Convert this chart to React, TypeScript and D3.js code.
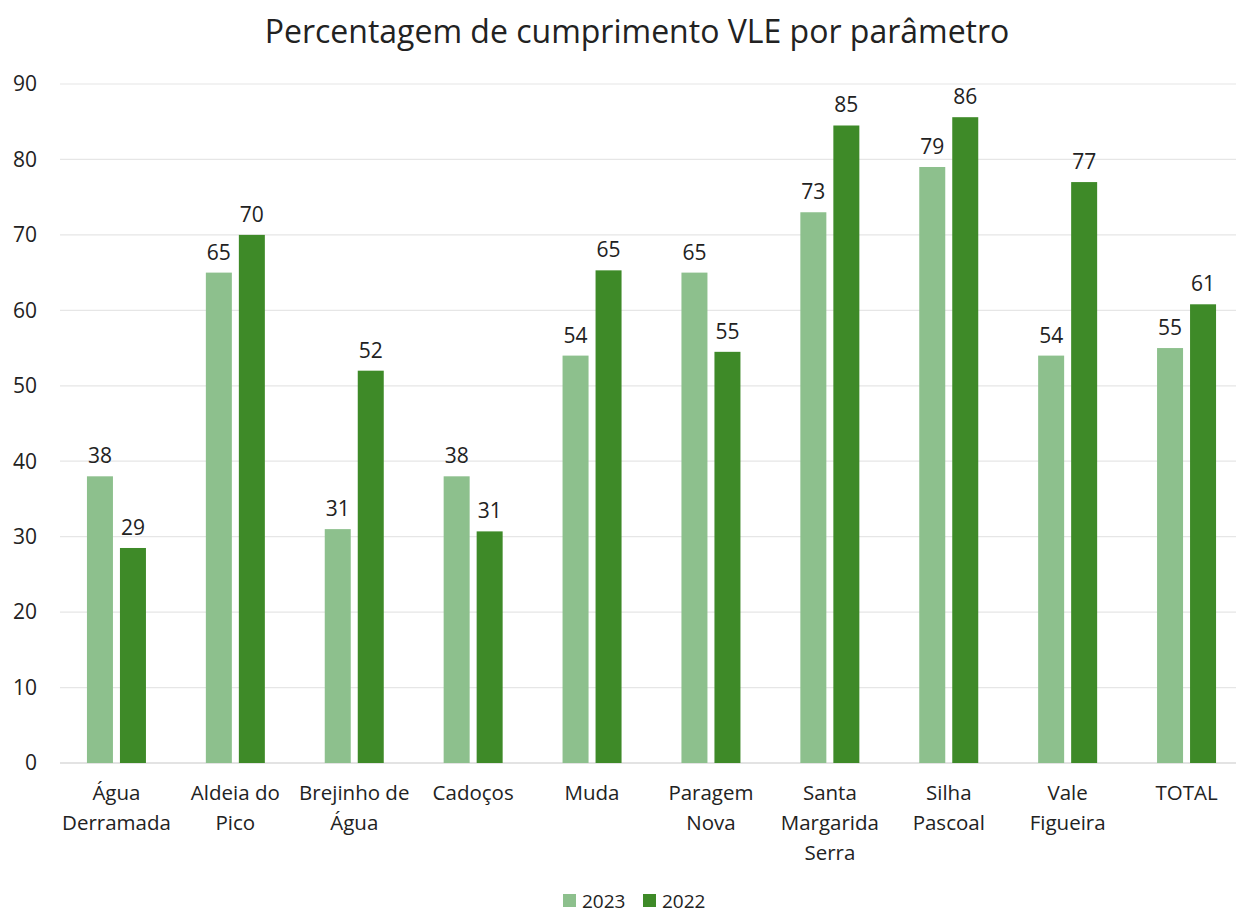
import React from "react";
import * as d3 from "d3";

const categories: string[][] = [
  ["Água", "Derramada"],
  ["Aldeia do", "Pico"],
  ["Brejinho de", "Água"],
  ["Cadoços"],
  ["Muda"],
  ["Paragem", "Nova"],
  ["Santa", "Margarida", "Serra"],
  ["Silha", "Pascoal"],
  ["Vale", "Figueira"],
  ["TOTAL"],
];
const values2023 = [38, 65, 31, 38, 54, 65, 73, 79, 54, 55];
const values2022 = [28.5, 70, 52, 30.7, 65.3, 54.5, 84.5, 85.6, 77, 60.8];
const yTicks = [0, 10, 20, 30, 40, 50, 60, 70, 80, 90];
const seriesNames = ["2023", "2022"];
const colors = ["#8dc08d", "#3e8a28"];

const W = 1236;
const H = 915;
const FONT = "'Open Sans', 'Noto Sans', sans-serif";

export default function App() {
  const keys = categories.map((c) => c.join(" "));
  const x = d3.scaleBand<string>().domain(keys).range([57, 1246]).padding(0);
  const y = d3.scaleLinear().domain([0, 90]).range([763, 84]);
  const barW = 26;
  const gap = 7;
  const series = [values2023, values2022];

  return (
    <svg width={W} height={H} style={{ position: "absolute", left: 0, top: 0, background: "#fff" }} fontFamily={FONT}>
      <text x={637} y={43} textAnchor="middle" fontSize={32} fill="#222">
        Percentagem de cumprimento VLE por parâmetro
      </text>
      {yTicks.map((t) => (
        <g key={t}>
          <line x1={60} x2={1243} y1={y(t)} y2={y(t)} stroke={t === 0 ? "#c8c8c8" : "#e6e6e6"} strokeWidth={1.2} />
          <text x={37} y={y(t)} dy="0.35em" textAnchor="end" fontSize={21} fill="#222">
            {t}
          </text>
        </g>
      ))}
      {keys.map((k, i) => {
        const cx = (x(k) as number) + x.bandwidth() / 2;
        return (
          <g key={k}>
            {series.map((vals, s) => {
              const bx = s === 0 ? cx - gap / 2 - barW : cx + gap / 2;
              const v = vals[i];
              return (
                <g key={s}>
                  <rect x={bx} y={y(v)} width={barW} height={y(0) - y(v)} fill={colors[s]} />
                  <text x={bx + barW / 2} y={y(v) - 13} textAnchor="middle" fontSize={21} fill="#222">
                    {Math.round(v)}
                  </text>
                </g>
              );
            })}
            {categories[i].map((line, j) => (
              <text key={j} x={cx} y={800 + j * 30} textAnchor="middle" fontSize={20.5} fill="#222">
                {line}
              </text>
            ))}
          </g>
        );
      })}
      {seriesNames.map((n, s) => {
        const lx = s === 0 ? 563 : 643;
        return (
          <g key={n}>
            <rect x={lx} y={894} width={13} height={13} fill={colors[s]} />
            <text x={lx + 19} y={901} dy="0.35em" fontSize={19} fill="#222">
              {n}
            </text>
          </g>
        );
      })}
    </svg>
  );
}
